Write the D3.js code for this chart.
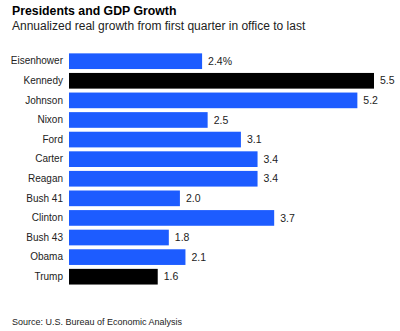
<!DOCTYPE html>
<html>
<head>
<meta charset="utf-8">
<script src="https://cdn.jsdelivr.net/npm/d3@7"></script>
<style>
  body { margin: 0; background: #fff; }
  svg { display: block; font-family: "Liberation Sans", Arial, sans-serif; }
</style>
</head>
<body>
<svg width="400" height="331"></svg>
<script>
var width = 400;
var height = 331;

// data
var presidents = ["Eisenhower", "Kennedy", "Johnson", "Nixon", "Ford", "Carter",
                  "Reagan", "Bush 41", "Clinton", "Bush 43", "Obama", "Trump"];
var growth = [2.4, 5.5, 5.2, 2.5, 3.1, 3.4, 3.4, 2.0, 3.7, 1.8, 2.1, 1.6];
var valueLabels = ["2.4%", "5.5", "5.2", "2.5", "3.1", "3.4", "3.4", "2.0", "3.7", "1.8", "2.1", "1.6"];
var highlighted = ["Kennedy", "Trump"];

var rows = presidents.map((p, i) => ({name: p, value: growth[i], label: valueLabels[i]}));

var svg = d3.select("svg");

var xScale = d3.scaleLinear()
               .domain([0, 5.5])
               .range([69, 374]);

var yScale = d3.scaleBand()
               .domain(presidents)
               .range([51.4, 286.5])
               .paddingInner(0.2)
               .paddingOuter(0.1);

// title + subtitle
svg.append("text")
    .attr("x", 12)
    .attr("y", 15)
    .style("font-size", "12.3px")
    .style("font-weight", "bold")
    .attr("fill", "#000")
    .text("Presidents and GDP Growth");

svg.append("text")
    .attr("x", 12)
    .attr("y", 29.5)
    .style("font-size", "12px")
    .attr("fill", "#222")
    .text("Annualized real growth from first quarter in office to last");

// bars
svg.selectAll("rect.bar")
  .data(rows)
  .enter()
  .append("rect")
    .attr("class", "bar")
    .attr("x", xScale(0))
    .attr("y", d => yScale(d.name))
    .attr("width", d => xScale(d.value) - xScale(0))
    .attr("height", yScale.bandwidth())
    .attr("fill", d => highlighted.includes(d.name) ? "#000" : "#1d5cff");

// category labels
var yAxis = d3.axisLeft(yScale).tickSize(0).tickPadding(6);
var gy = svg.append("g")
    .attr("transform", "translate(" + xScale(0) + ",0)")
    .call(yAxis);
gy.select(".domain").remove();
gy.selectAll("text")
    .style("font-size", "10px")
    .style("font-family", "'Liberation Sans', Arial, sans-serif")
    .attr("fill", "#222");

// value labels
svg.selectAll("text.val")
  .data(rows)
  .enter()
  .append("text")
    .attr("class", "val")
    .attr("x", d => xScale(d.value) + 6)
    .attr("y", d => yScale(d.name) + yScale.bandwidth() / 2)
    .attr("dy", "0.35em")
    .style("font-size", "10.5px")
    .attr("fill", "#222")
    .text(d => d.label);

// source
svg.append("text")
    .attr("x", 12)
    .attr("y", 325)
    .style("font-size", "9px")
    .attr("fill", "#222")
    .text("Source: U.S. Bureau of Economic Analysis");
</script>
</body>
</html>
